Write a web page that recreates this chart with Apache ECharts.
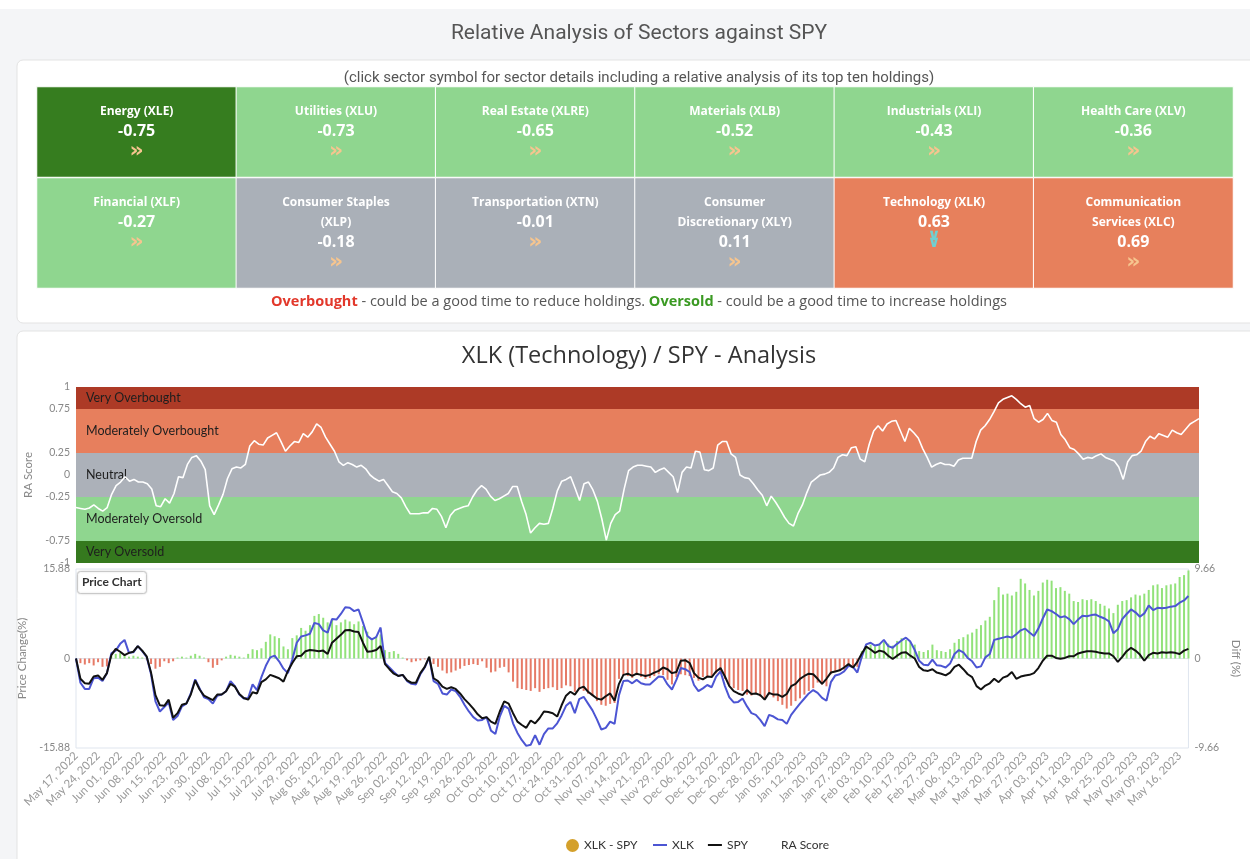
<!DOCTYPE html>
<html><head><meta charset="utf-8">
<script src="https://cdn.jsdelivr.net/npm/echarts@6/dist/echarts.min.js"></script>
<style>html,body{margin:0;padding:0;background:#f4f5f7}#c{width:1250px;height:859px}</style>
</head><body><div id="c"></div>
<script>
// ---------- sector cards ----------
const sectorNames = ['Energy (XLE)','Utilities (XLU)','Real Estate (XLRE)','Materials (XLB)','Industrials (XLI)','Health Care (XLV)',
  'Financial (XLF)','Consumer Staples (XLP)','Transportation (XTN)','Consumer Discretionary (XLY)','Technology (XLK)','Communication Services (XLC)'];
const sectorValues = [-0.75,-0.73,-0.65,-0.52,-0.43,-0.36,-0.27,-0.18,-0.01,0.11,0.63,0.69];
const sectorSignals = ['right','right','right','right','right','right','right','right','right','right','down','right'];

// ---------- RA bands / ticks ----------
const bandNames = ['Very Overbought','Moderately Overbought','Neutral','Moderately Oversold','Very Oversold'];
const bandEdges = [1,0.75,0.25,-0.25,-0.75,-1];
const raTickLabels = [1,0.75,0.25,0,-0.25,-0.75,-1];

// ---------- dates ----------
const startDate = '2022-05-17';
const holidays = ['2022-05-30','2022-06-20','2022-07-04','2022-09-05','2022-11-24','2022-12-26','2023-01-02','2023-01-16','2023-02-20','2023-04-07'];

// ---------- series ----------
const raScore = [
-0.37,-0.38,-0.39,-0.375,-0.34,-0.38,-0.41,-0.37,-0.22,-0.12,
-0.08,-0.02,-0.07,-0.05,-0.08,-0.08,-0.1,-0.16,-0.35,-0.36,
-0.27,-0.32,-0.21,-0.02,-0.03,0.12,0.2,0.22,0.16,0.06,
-0.35,-0.45,-0.34,-0.22,-0.04,0.07,0.09,0.08,0.12,0.33,
0.39,0.35,0.34,0.42,0.45,0.48,0.38,0.27,0.33,0.38,
0.37,0.47,0.43,0.49,0.58,0.54,0.43,0.35,0.27,0.15,
0.11,0.14,0.12,0.09,0.11,0.07,0.0,-0.04,-0.07,-0.05,
-0.12,-0.19,-0.21,-0.26,-0.36,-0.44,-0.44,-0.44,-0.43,-0.43,
-0.38,-0.39,-0.47,-0.6,-0.46,-0.4,-0.38,-0.36,-0.35,-0.25,
-0.17,-0.12,-0.16,-0.24,-0.29,-0.27,-0.24,-0.21,-0.13,-0.13,
-0.3,-0.45,-0.66,-0.6,-0.55,-0.56,-0.55,-0.38,-0.18,-0.07,
-0.05,-0.02,-0.15,-0.29,-0.1,-0.08,-0.17,-0.3,-0.5,-0.74,
-0.55,-0.45,-0.41,-0.16,0.05,0.09,0.11,0.11,0.1,0.09,
0.03,0.06,0.08,0.03,-0.02,-0.2,0.03,0.09,0.08,0.27,
0.26,0.06,0.05,0.08,0.34,0.38,0.38,0.24,0.2,0.0,
-0.03,-0.04,-0.1,-0.17,-0.23,-0.35,-0.24,-0.31,-0.39,-0.48,
-0.55,-0.58,-0.44,-0.34,-0.2,-0.08,-0.04,0.0,0.01,0.03,
0.08,0.2,0.23,0.22,0.31,0.32,0.18,0.15,0.35,0.5,
0.56,0.5,0.58,0.61,0.62,0.5,0.38,0.53,0.48,0.42,
0.3,0.2,0.09,0.12,0.14,0.12,0.12,0.1,0.17,0.19,
0.19,0.19,0.38,0.51,0.56,0.63,0.72,0.82,0.86,0.88,
0.9,0.86,0.81,0.77,0.79,0.64,0.6,0.63,0.7,0.62,
0.6,0.46,0.4,0.31,0.29,0.24,0.18,0.2,0.19,0.22,
0.24,0.2,0.18,0.16,0.09,-0.05,0.15,0.22,0.23,0.27,
0.38,0.44,0.41,0.47,0.45,0.43,0.51,0.48,0.46,0.52,
0.58,0.61,0.64];

const spyChange = [
0,-3.6,-4.4,-4.46,-3.2,-3.0,-3.8,-2.6,0.6,1.7,
1.2,0.6,1.0,1.2,2.2,1.4,0.4,-2.5,-6.5,-8.3,
-8.4,-7.3,-10.5,-9.7,-8.2,-8.0,-6.4,-3.9,-5.5,-6.6,
-7.0,-7.4,-6.4,-6.4,-5.8,-4.5,-5.0,-6.3,-7.0,-7.3,
-6.0,-6.2,-4.2,-3.7,-2.9,-3.2,-3.5,-4.1,-2.2,-0.8,
0.4,0.5,1.3,1.5,1.4,1.3,1.4,0.8,2.8,3.5,
4.2,5.0,5.05,4.8,4.7,2.8,1.2,1.3,1.5,2.2,
-1.0,-1.9,-2.7,-3.1,-2.9,-3.9,-4.3,-4.3,-2.6,-1.5,
0.3,-3.5,-4.0,-5.0,-5.4,-5.1,-5.4,-6.2,-7.2,-8.0,
-8.9,-9.9,-10.6,-10.4,-11.2,-11.6,-9.4,-7.6,-8.0,-9.7,
-11.2,-11.8,-12.3,-11.0,-11.5,-10.6,-9.4,-9.5,-9.7,-10.3,
-8.3,-6.6,-5.9,-6.4,-5.3,-5.0,-5.9,-6.5,-7.1,-7.3,
-6.7,-6.2,-7.5,-4.5,-2.9,-2.7,-3.1,-2.7,-2.9,-3.1,
-2.9,-2.5,-2.2,-1.6,-1.9,-2.6,-2.4,-0.4,-0.3,-0.8,
-2.6,-3.4,-3.7,-3.2,-3.3,-2.3,-1.7,-3.2,-4.9,-5.8,
-6.2,-6.5,-5.6,-6.3,-6.2,-6.5,-7.3,-6.1,-6.4,-6.4,
-6.8,-6.3,-4.9,-4.5,-3.6,-3.1,-2.7,-2.8,-3.6,-4.5,
-3.6,-2.5,-2.3,-2.1,-1.6,-1.0,-1.6,-0.6,0.9,2.1,
1.6,1.0,1.4,1.2,0.5,-0.1,0.5,1.0,1.1,0.5,
0.0,-1.5,-2.1,-2.2,-1.9,-2.5,-2.7,-3.0,-2.5,-1.5,
-1.1,-1.9,-2.8,-3.3,-4.9,-5.5,-4.8,-4.4,-3.6,-4.2,
-3.4,-3.1,-2.4,-3.6,-3.2,-3.0,-2.9,-2.6,-1.7,-0.4,
0.5,0.5,0.1,-0.05,0.1,0.4,0.4,0.9,1.1,1.3,
1.3,1.2,1.0,0.9,0.9,0.4,-0.6,0.3,1.3,1.9,
1.4,0.7,-0.4,0.6,1.0,0.9,1.1,1.0,1.1,1.0,
0.8,1.4,1.7];

const xlkChange = [
0,-4.3,-5.4,-5.4,-3.5,-3.4,-4.0,-2.6,0.9,1.4,
2.6,3.3,1.0,1.1,2.2,1.3,0.3,-2.8,-7.6,-9.4,
-8.6,-7.8,-10.9,-10.2,-8.5,-8.0,-6.2,-3.7,-5.3,-6.9,
-7.2,-8.0,-6.6,-6.4,-5.8,-4.0,-4.9,-6.4,-7.1,-7.0,
-4.6,-5.6,-3.3,-1.3,0.2,0.5,-0.5,-1.8,-2.6,-0.2,
2.8,3.9,4.1,4.4,6.3,6.1,5.0,4.6,7.0,6.9,
7.9,9.1,9.0,8.4,8.7,6.4,4.0,3.4,3.8,5.5,
-0.8,-1.6,-2.4,-3.1,-2.9,-4.0,-4.5,-4.6,-2.8,-1.6,
0.2,-4.0,-4.5,-6.2,-6.4,-5.5,-5.8,-6.8,-8.2,-9.4,
-10.4,-11.0,-10.9,-10.4,-12.8,-13.4,-10.3,-8.4,-8.9,-11.5,
-13.2,-14.5,-15.5,-15.3,-13.6,-15.3,-13.4,-12.4,-12.4,-11.5,
-10.1,-8.4,-7.7,-9.7,-7.2,-6.8,-8.0,-9.2,-10.8,-12.6,
-12.3,-11.2,-11.6,-6.5,-4.0,-3.9,-4.4,-3.8,-4.4,-4.6,
-4.6,-3.9,-3.2,-3.3,-4.6,-5.5,-3.8,-1.7,-1.9,-2.4,
-4.7,-5.8,-5.3,-4.7,-5.1,-3.2,-2.3,-4.9,-6.9,-7.8,
-7.7,-7.1,-8.5,-9.7,-10.0,-10.9,-12.0,-10.0,-10.3,-10.8,
-10.9,-11.6,-10.0,-9.0,-8.0,-7.1,-6.2,-5.6,-6.1,-7.0,
-7.5,-4.2,-3.0,-2.8,-2.3,-1.3,-1.5,-2.5,0.3,2.5,
2.8,2.3,2.5,3.3,2.2,1.9,2.6,3.2,3.7,3.0,
1.5,-0.4,-1.1,-1.2,-0.2,-1.2,-1.3,-1.6,-0.9,0.8,
1.5,1.1,0.1,-0.5,-1.6,-1.4,0.2,0.8,3.3,3.5,
3.7,3.9,3.7,4.3,5.0,5.3,4.6,4.0,5.3,7.1,
8.7,8.4,7.9,7.3,7.5,7.0,6.1,6.9,7.6,7.5,
7.7,7.8,7.4,7.1,6.6,4.5,5.2,7.0,7.9,8.7,
8.2,7.4,8.0,9.4,8.6,9.0,8.9,9.0,9.2,9.3,
9.9,10.3,11.1];

const diffXlkSpy = [
0,-0.5,-0.65,-0.5,-0.75,-0.4,-0.9,-0.85,0.3,0.5,
0.6,0.4,0.2,0.3,0.2,0.1,-0.1,-0.6,-1.1,-0.9,
-0.3,-0.5,-0.3,0.1,0.2,0.1,0.3,0.5,0.3,0.1,
-0.4,-1.0,-0.7,-0.2,0.2,0.4,0.3,0.2,0.1,0.5,
1.0,0.9,1.1,1.8,2.6,2.4,2.2,1.3,1.0,2.2,
2.5,3.3,3.0,3.6,4.6,4.8,4.4,3.9,4.2,3.6,
3.9,4.2,4.0,3.7,4.0,3.5,2.9,2.2,2.4,2.6,
0.9,0.7,0.8,0.5,0.1,-0.2,-0.4,-0.3,-0.2,-0.1,
0.2,-0.6,-0.9,-1.3,-1.6,-1.5,-1.3,-1.1,-0.8,-0.7,
-0.6,-0.7,-0.3,-1.0,-1.5,-1.4,-1.0,-0.9,-1.5,-2.5,
-3.2,-3.3,-3.4,-3.5,-3.2,-3.6,-3.3,-3.2,-3.1,-3.4,
-3.2,-2.9,-3.0,-3.6,-3.3,-3.5,-3.8,-4.0,-4.6,-5.0,
-5.1,-4.9,-4.8,-2.2,-1.8,-1.9,-2.1,-1.8,-2.0,-2.2,
-2.1,-1.9,-1.7,-1.8,-2.3,-2.8,-2.0,-1.7,-1.8,-1.9,
-2.1,-2.4,-2.0,-1.9,-2.0,-1.6,-1.5,-2.2,-2.9,-3.2,
-3.4,-3.5,-3.9,-4.0,-3.8,-4.1,-4.4,-3.9,-4.2,-4.6,
-5.0,-5.4,-5.1,-4.6,-4.3,-3.9,-3.5,-3.2,-2.6,-2.8,
-3.0,-1.7,-1.4,-1.3,-1.2,-0.6,-0.8,-0.9,0.8,1.4,
1.5,1.3,1.6,1.8,1.6,1.4,1.9,2.2,2.0,1.8,
1.5,0.8,0.7,0.9,1.5,0.9,0.8,0.7,1.0,1.7,
2.1,2.3,2.6,2.8,3.2,3.6,4.1,4.5,6.3,7.7,
6.9,7.0,6.8,7.2,8.6,8.1,7.4,6.8,7.3,8.2,
8.5,8.4,7.6,7.7,7.3,7.0,6.2,6.1,6.4,6.3,
6.4,6.2,5.9,5.7,5.4,4.9,5.8,6.2,6.3,6.6,
6.9,6.8,7.0,7.4,7.9,8.0,7.6,7.9,8.0,8.1,
8.8,9.0,9.5];

// ---------- helpers ----------
const MONTHS = ['Jan','Feb','Mar','Apr','May','Jun','Jul','Aug','Sep','Oct','Nov','Dec'];
function tradingDays(start, n, hol) {
  const out = []; const d = new Date(start + 'T12:00:00Z');
  while (out.length < n) {
    const wd = d.getUTCDay(); const iso = d.toISOString().slice(0, 10);
    if (wd !== 0 && wd !== 6 && !hol.includes(iso)) {
      out.push(MONTHS[d.getUTCMonth()] + ' ' + String(d.getUTCDate()).padStart(2, '0') + ', ' + d.getUTCFullYear());
    }
    d.setUTCDate(d.getUTCDate() + 1);
  }
  return out;
}
const dates = tradingDays(startDate, raScore.length, holidays);

function wrapWords(s, max) {
  const words = s.split(' '); const lines = []; let cur = '';
  for (const w of words) {
    if (cur && (cur + ' ' + w).length > max) { lines.push(cur); cur = w; }
    else cur = cur ? cur + ' ' + w : w;
  }
  lines.push(cur); return lines;
}

const bandColors = ['#ad3a26','#e77f5d','#acb1b9','#8fd68f','#35791e'];
const FONT = 'Lato, "Open Sans", sans-serif';
const CARD_FONT = '"Open Sans", sans-serif';

function heatRow(from) {
  const data = [];
  for (let c = 0; c < 6; c++) data.push({ value: [c, 0, sectorValues[from + c]], idx: from + c });
  return data;
}
const cellLabel = {
  show: true, position: 'insideTop', distance: 15, color: '#fff',
  formatter: p => {
    const i = p.data.idx;
    const name = wrapWords(sectorNames[i], 20).map(l => '{n|' + l + '}').join('\n');
    const sig = sectorSignals[i] === 'down' ? '{d|∨}\n{d|∨}' : '{s|»}';
    return name + '\n{v|' + sectorValues[i].toFixed(2) + '}\n' + sig;
  },
  rich: {
    n: { fontSize: 12, fontWeight: 'bold', color: '#fff', lineHeight: 20, fontFamily: CARD_FONT },
    v: { fontSize: 16, fontWeight: 'bold', color: '#fff', lineHeight: 20, fontFamily: CARD_FONT },
    s: { fontSize: 22, fontWeight: 'bold', color: '#f6c58f', lineHeight: 20, fontFamily: 'DejaVu Sans, sans-serif' },
    d: { fontSize: 16, fontWeight: 'bold', color: '#6fd0d2', lineHeight: 7, fontFamily: 'DejaVu Sans, sans-serif' }
  }
};

const chart = echarts.init(document.getElementById('c'));
chart.setOption({
  backgroundColor: '#f4f5f7',
  textStyle: { fontFamily: FONT },
  animation: false,
  graphic: [
    { type: 'rect', z: -10, shape: { x: 0, y: 0, width: 1250, height: 9 }, style: { fill: '#ffffff' } },
    { type: 'rect', z: -10, shape: { x: 17, y: 60, width: 1250, height: 263, r: 6 }, style: { fill: '#ffffff', stroke: '#e3e3e3' } },
    { type: 'rect', z: -10, shape: { x: 17, y: 331, width: 1250, height: 545, r: 6 }, style: { fill: '#ffffff', stroke: '#e3e3e3' } }
  ],
  title: [
    { text: 'Relative Analysis of Sectors against SPY', left: 634, textAlign: 'center', top: 18,
      textStyle: { fontFamily: 'Roboto, sans-serif', fontWeight: 'normal', fontSize: 21, color: '#555' } },
    { text: '(click sector symbol for sector details including a relative analysis of its top ten holdings)', left: 634, textAlign: 'center', top: 66,
      textStyle: { fontFamily: 'Roboto, sans-serif', fontWeight: 'normal', fontSize: 15, color: '#555' } },
    { text: '{r|Overbought} - could be a good time to reduce holdings. {g|Oversold} - could be a good time to increase holdings', left: 634, textAlign: 'center', top: 289,
      textStyle: { fontFamily: CARD_FONT, fontWeight: 'normal', fontSize: 14.5, color: '#555',
        rich: { r: { color: '#e2382b', fontWeight: 'bold', fontSize: 14.5, fontFamily: CARD_FONT },
                g: { color: '#3b9a23', fontWeight: 'bold', fontSize: 14.5, fontFamily: CARD_FONT } } } },
    { text: 'XLK (Technology) / SPY - Analysis', left: 634, textAlign: 'center', top: 339,
      textStyle: { fontFamily: CARD_FONT, fontWeight: 'normal', fontSize: 23.5, color: '#333' } },
    { text: 'Price Chart', left: 77, top: 571, padding: [5, 5, 6, 5], borderColor: '#c9c9c9', borderWidth: 1, borderRadius: 3,
      backgroundColor: '#fff', shadowColor: 'rgba(0,0,0,0.15)', shadowBlur: 2,
      textStyle: { fontSize: 12, fontWeight: 'bold', color: '#333', fontFamily: FONT } }
  ],
  legend: [
    { data: [{ name: 'XLK - SPY', icon: 'circle', itemStyle: { color: '#d4a02b' } }],
      left: 561, top: 834, itemWidth: 13, itemHeight: 13, textStyle: { fontSize: 12, color: '#333' } },
    { data: [{ name: 'XLK', icon: 'rect' }, { name: 'SPY', icon: 'rect' }, { name: 'RA Score', icon: 'rect' }],
      left: 648, top: 834, itemWidth: 14, itemHeight: 2, itemGap: 14, textStyle: { fontSize: 12, color: '#333' } }
  ],
  visualMap: {
    type: 'piecewise', show: false, seriesIndex: [0, 1], dimension: 2,
    pieces: [
      { lte: -0.75, color: '#367d1f' },
      { gt: -0.75, lte: -0.25, color: '#8fd68f' },
      { gt: -0.25, lt: 0.25, color: '#aab0b8' },
      { gte: 0.25, lt: 0.75, color: '#e7805c' },
      { gte: 0.75, color: '#b03a26' }
    ]
  },
  grid: [
    { left: 37, top: 87, width: 1196, height: 90 },
    { left: 37, top: 178, width: 1196, height: 110 },
    { left: 76, top: 387, width: 1123, height: 176 },
    { left: 76, top: 569, width: 1123, height: 179, show: true, borderColor: '#dfe5ee', borderWidth: 1, backgroundColor: '#ffffff' }
  ],
  xAxis: [
    { gridIndex: 0, type: 'category', data: [0, 1, 2, 3, 4, 5], show: false },
    { gridIndex: 1, type: 'category', data: [0, 1, 2, 3, 4, 5], show: false },
    { gridIndex: 2, type: 'category', data: dates, boundaryGap: false, show: false },
    { gridIndex: 3, type: 'category', data: dates, boundaryGap: false,
      axisLine: { lineStyle: { color: '#dfe5ee' } }, axisTick: { show: false },
      axisLabel: { interval: (i) => i % 5 === 0, rotate: 45, fontSize: 11.5, color: '#999', margin: 6 } }
  ],
  yAxis: [
    { gridIndex: 0, type: 'category', data: ['r1'], show: false },
    { gridIndex: 1, type: 'category', data: ['r2'], show: false },
    { gridIndex: 2, type: 'value', min: -1, max: 1, interval: 0.25,
      name: 'RA Score', nameLocation: 'middle', nameGap: 36, nameTextStyle: { color: '#888', fontSize: 11.5 },
      axisLabel: { fontSize: 10.5, color: '#888', margin: 6, formatter: v => raTickLabels.includes(v) ? String(v) : '' },
      splitLine: { show: false }, axisLine: { show: false }, axisTick: { show: false } },
    { gridIndex: 3, type: 'value', min: -15.88, max: 15.88, interval: 15.88,
      name: 'Price Change(%)', nameLocation: 'middle', nameGap: 38, nameTextStyle: { color: '#888', fontSize: 11.5 },
      axisLabel: { fontSize: 10.5, color: '#888', margin: 6 },
      splitLine: { show: false }, axisLine: { show: false }, axisTick: { show: false } },
    { gridIndex: 3, type: 'value', position: 'right', min: -9.66, max: 9.66, interval: 9.66,
      name: 'Diff (%)', nameLocation: 'middle', nameGap: 28, nameRotate: -90, nameTextStyle: { color: '#888', fontSize: 11.5 },
      axisLabel: { fontSize: 10.5, color: '#888', margin: 6 },
      splitLine: { show: false }, axisLine: { show: false }, axisTick: { show: false } }
  ],
  series: [
    { type: 'heatmap', xAxisIndex: 0, yAxisIndex: 0, data: heatRow(0), label: cellLabel,
      itemStyle: { borderColor: '#fff', borderWidth: 1 }, emphasis: { disabled: true } },
    { type: 'heatmap', xAxisIndex: 1, yAxisIndex: 1, data: heatRow(6), label: cellLabel,
      itemStyle: { borderColor: '#fff', borderWidth: 1 }, emphasis: { disabled: true } },
    { name: 'RA Score', type: 'line', xAxisIndex: 2, yAxisIndex: 2, data: raScore, symbol: 'none', z: 5,
      lineStyle: { color: '#ffffff', width: 1.6 }, itemStyle: { color: '#ffffff' },
      markArea: {
        silent: true,
        label: { show: true, position: 'insideLeft', distance: 10, color: '#1e1e1e', fontSize: 12.5, fontFamily: FONT },
        data: bandNames.map((nm, k) => [
          { yAxis: bandEdges[k + 1], name: nm, itemStyle: { color: bandColors[k], opacity: 1 } },
          { yAxis: bandEdges[k] }
        ])
      } },
    { name: 'XLK - SPY', type: 'bar', xAxisIndex: 3, yAxisIndex: 4, data: diffXlkSpy, barWidth: 2,
      itemStyle: { color: p => (p.value >= 0 ? '#92e27a' : '#e67a66') } },
    { name: 'XLK', type: 'line', xAxisIndex: 3, yAxisIndex: 3, data: xlkChange, symbol: 'none',
      lineStyle: { color: '#4c55d3', width: 2 }, itemStyle: { color: '#4c55d3' } },
    { name: 'SPY', type: 'line', xAxisIndex: 3, yAxisIndex: 3, data: spyChange, symbol: 'none',
      lineStyle: { color: '#111111', width: 2 }, itemStyle: { color: '#111111' } }
  ]
});
</script>
</body></html>
